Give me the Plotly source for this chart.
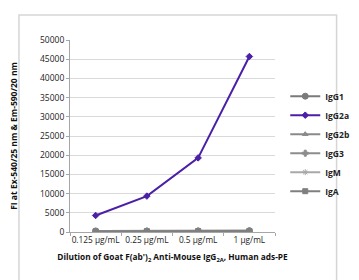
import plotly.graph_objects as go

categories = ["0.125 µg/mL", "0.25 µg/mL", "0.5 µg/mL", "1 µg/mL"]
igg1 = [250, 260, 280, 320]
igg2a = [4300, 9350, 19300, 45700]
igg2b = [230, 240, 260, 300]
igg3 = [220, 230, 250, 290]
igm = [210, 220, 240, 280]
iga = [200, 210, 230, 270]
y_ticks = [0, 5000, 10000, 15000, 20000, 25000, 30000, 35000, 40000, 45000, 50000]
y_tick_text = [str(v) for v in y_ticks]

FONT = "Open Sans"

series = [
    ("IgG1", igg1, "#7a7a7a", "circle", 6),
    ("IgG2a", igg2a, "#4b1fa6", "diamond", 5),
    ("IgG2b", igg2b, "#8a8a8a", "triangle-up", 5),
    ("IgG3", igg3, "#8c8c8c", "cross", 5),
    ("IgM", igm, "#a8a8a8", "asterisk-open", 5),
    ("IgA", iga, "#7f7f7f", "square", 5),
]

fig = go.Figure()
order = [s for s in series if s[0] != "IgG2a"] + [s for s in series if s[0] == "IgG2a"]
for name, vals, color, sym, size in order:
    rank = [s[0] for s in series].index(name)
    fig.add_trace(go.Scatter(
        x=categories, y=vals, name=name, mode="lines+markers",
        legendrank=rank + 1,
        line=dict(color=color, width=2),
        marker=dict(symbol=sym, size=size, color=color, line=dict(color=color, width=1)),
    ))

fig.update_layout(
    width=359, height=280,
    margin=dict(l=62, r=64, t=32, b=56),
    paper_bgcolor="white", plot_bgcolor="white",
    font=dict(family=FONT, size=8.5, color="#222222"),
    showlegend=True,
    legend=dict(
        x=1.05, y=0.46, xanchor="left", yanchor="middle",
        font=dict(family=FONT, size=8.5, color="#222222", weight="bold"),
        itemwidth=30, tracegroupgap=0,
        bgcolor="rgba(0,0,0,0)",
    ),
    xaxis=dict(
        type="category", range=[-0.5, 3.5], automargin=False,
        showgrid=False, showline=True, linecolor="#a6a6a6", linewidth=1,
        ticks="outside", tickson="boundaries", ticklen=3, tickcolor="#a6a6a6",
        tickangle=0,
        tickfont=dict(family=FONT, size=8.3, color="#222222"),
        title=dict(
            text="Dilution of Goat F(ab')<sub>2</sub> Anti-Mouse IgG<sub>2A</sub>, Human ads-PE",
            font=dict(family=FONT, size=8.3, color="#111111", weight="bold"),
            standoff=10,
        ),
        fixedrange=True,
    ),
    yaxis=dict(
        range=[0, 50000], tickvals=y_ticks, ticktext=y_tick_text, automargin=False,
        showgrid=True, gridcolor="#d9d9d9", gridwidth=1,
        showline=True, linecolor="#a6a6a6", linewidth=1,
        zeroline=False,
        ticks="outside", ticklen=3, tickcolor="#a6a6a6",
        tickfont=dict(family=FONT, size=8.5, color="#222222"),
        title=dict(
            text="FI at Ex-540/25 nm & Em-590/20 nm",
            font=dict(family=FONT, size=8.5, color="#111111", weight="bold"),
            standoff=22,
        ),
        fixedrange=True,
    ),
)

fig.add_shape(type="rect", xref="paper", yref="paper",
              x0=(4 - 62) / 233, x1=(365 - 62) / 233,
              y0=(224 - 285) / 192, y1=(224 - 7) / 192,
              line=dict(color="#d6d6d6", width=1.5), layer="below")

fig.write_html("out.html")
